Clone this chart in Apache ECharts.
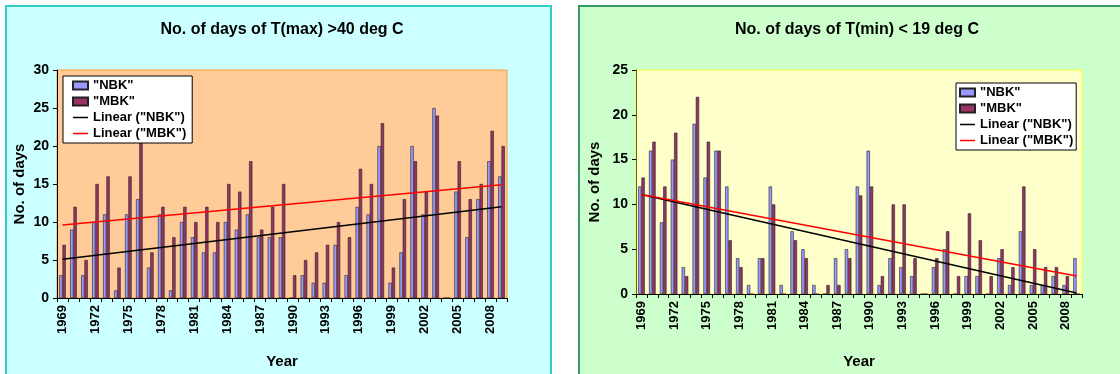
<!DOCTYPE html>
<html>
<head>
<meta charset="utf-8">
<script src="https://cdn.jsdelivr.net/npm/echarts@6/dist/echarts.min.js"></script>
<style>
  html, body { margin: 0; padding: 0; background: #fff; }
  #main { width: 1120px; height: 374px; }
</style>
</head>
<body>
<div id="main"></div>
<script>
// categories
const years = ['1969','1970','1971','1972','1973','1974','1975','1976','1977','1978',
  '1979','1980','1981','1982','1983','1984','1985','1986','1987','1988','1989','1990',
  '1991','1992','1993','1994','1995','1996','1997','1998','1999','2000','2001','2002',
  '2003','2004','2005','2006','2007','2008','2009'];

// T(max) > 40 deg C
const tmaxNBK = [3,9,3,10,11,1,11,13,4,11,1,10,8,6,6,10,9,11,8,8,8,0,3,2,2,7,3,12,11,20,2,6,20,11,25,0,14,8,13,18,16];
const tmaxMBK = [7,12,5,15,16,4,16,22,6,12,8,12,10,12,10,15,14,18,9,12,15,3,5,6,7,10,8,17,15,23,4,13,18,14,24,0,18,13,15,22,20];
// T(min) < 19 deg C
const tminNBK = [12,16,8,15,3,19,13,16,12,4,1,4,12,1,7,5,1,0,4,5,12,16,1,4,3,2,0,3,5,0,2,2,0,4,1,7,1,1,2,1,4];
const tminMBK = [13,17,12,18,2,22,17,16,6,3,0,4,10,0,6,4,0,1,1,4,11,12,2,10,10,4,0,4,7,2,9,6,2,5,3,12,5,3,3,2,0];

// trend line end points (first year, last year)
const tmaxTrendNBK = [5.1, 12.0];
const tmaxTrendMBK = [9.6, 14.9];
const tminTrendNBK = [11.1, 0.1];
const tminTrendMBK = [11.1, 2.0];

const titles = ['No. of days of T(max) >40 deg C', 'No. of days of T(min) < 19 deg C'];
const yTicks = [[0, 30, 5], [0, 25, 5]];

const FONT = 'Liberation Sans, Arial, sans-serif';
const last = years.length - 1;
const LINE_ICON = 'path://M0,0H30V3H0Z';

function xAxisFor(gridIndex, gap) {
  return {
    type: 'category',
    gridIndex: gridIndex,
    data: years,
    name: 'Year',
    nameLocation: 'middle',
    nameGap: gap,
    nameTextStyle: { color: '#000', fontSize: 15, fontWeight: 'bold', fontFamily: FONT },
    axisLine: { lineStyle: { color: '#000', width: 1 } },
    axisTick: { show: true, interval: 0, length: 4, lineStyle: { color: '#000' } },
    axisLabel: { interval: 2, rotate: 90, color: '#000', fontSize: 13, fontWeight: 'bold', fontFamily: FONT, margin: 7 },
    splitLine: { show: false }
  };
}

function yAxisFor(gridIndex, t, gap, lineColor) {
  return {
    type: 'value',
    gridIndex: gridIndex,
    min: t[0], max: t[1], interval: t[2],
    name: 'No. of days',
    nameLocation: 'middle',
    nameGap: gap,
    nameRotate: 90,
    nameTextStyle: { color: '#000', fontSize: 15, fontWeight: 'bold', fontFamily: FONT },
    axisLine: { show: true, lineStyle: { color: lineColor, width: 1 } },
    axisTick: { show: true, length: 4, lineStyle: { color: '#000' } },
    axisLabel: { color: '#000', fontSize: 14, fontWeight: 'bold', fontFamily: FONT, margin: 8 },
    splitLine: { show: false }
  };
}

function barSeries(name, idx, data, color) {
  return {
    name: name, type: 'bar', xAxisIndex: idx, yAxisIndex: idx,
    data: data, barWidth: 3.3, barGap: '0%',
    itemStyle: { color: color, borderColor: '#222', borderWidth: 0.6 },
    emphasis: { disabled: true }
  };
}

function trendSeries(name, idx, ends, color) {
  return {
    name: name, type: 'line', xAxisIndex: idx, yAxisIndex: idx,
    data: [[0, ends[0]], [last, ends[1]]],
    symbol: 'none', z: 3,
    lineStyle: { color: color, width: 1.5 },
    itemStyle: { color: color }
  };
}

function legendAt(left, top, padding) {
  return {
    orient: 'vertical', left: left, top: top,
    backgroundColor: '#fff', borderColor: '#000', borderWidth: 1,
    padding: padding, itemGap: 3, itemWidth: 15, itemHeight: 8,
    textStyle: { color: '#000', fontSize: 13, fontWeight: 'bold', fontFamily: FONT },
    data: [
      { name: '"NBK"', icon: 'rect' },
      { name: '"MBK"', icon: 'rect' },
      { name: 'Linear ("NBK")', icon: LINE_ICON },
      { name: 'Linear ("MBK")', icon: LINE_ICON }
    ],
    selectedMode: false
  };
}

const chart = echarts.init(document.getElementById('main'));
chart.setOption({
  animation: false,
  textStyle: { fontFamily: FONT },
  graphic: [
    { type: 'rect', z: -10, shape: { x: 6, y: 6, width: 545, height: 390 },
      style: { fill: '#CCFFFF', stroke: '#33CCCC', lineWidth: 2 } },
    { type: 'rect', z: -10, shape: { x: 579, y: 6, width: 570, height: 390 },
      style: { fill: '#CCFFCC', stroke: '#339966', lineWidth: 2 } },
    { type: 'text', x: 282, y: 30,
      style: { text: titles[0], fill: '#000', font: 'bold 16px ' + FONT, textAlign: 'center', textVerticalAlign: 'middle' } },
    { type: 'text', x: 857, y: 30,
      style: { text: titles[1], fill: '#000', font: 'bold 16px ' + FONT, textAlign: 'center', textVerticalAlign: 'middle' } }
  ],
  grid: [
    { left: 57, top: 70, width: 450, height: 240, show: true,
      backgroundColor: '#FFCC99', borderColor: '#FF9933', borderWidth: 1 },
    { left: 636, top: 70, width: 446, height: 235, show: true,
      backgroundColor: '#FFFFCC', borderColor: '#FFFF33', borderWidth: 1 }
  ],
  xAxis: [xAxisFor(0, 56), xAxisFor(1, 60)],
  yAxis: [yAxisFor(0, yTicks[0], 30, '#000'), yAxisFor(1, yTicks[1], 34, '#666600')],
  legend: [legendAt(63, 76, [3, 6, 3, 9]), legendAt(956, 83, [3, 3, 3, 3])],
  series: [
    barSeries('"NBK"', 0, tmaxNBK, '#9999FF'),
    barSeries('"MBK"', 0, tmaxMBK, '#993366'),
    trendSeries('Linear ("NBK")', 0, tmaxTrendNBK, '#000'),
    trendSeries('Linear ("MBK")', 0, tmaxTrendMBK, '#FF0000'),
    barSeries('"NBK"', 1, tminNBK, '#9999FF'),
    barSeries('"MBK"', 1, tminMBK, '#993366'),
    trendSeries('Linear ("NBK")', 1, tminTrendNBK, '#000'),
    trendSeries('Linear ("MBK")', 1, tminTrendMBK, '#FF0000')
  ]
});
</script>
</body>
</html>
